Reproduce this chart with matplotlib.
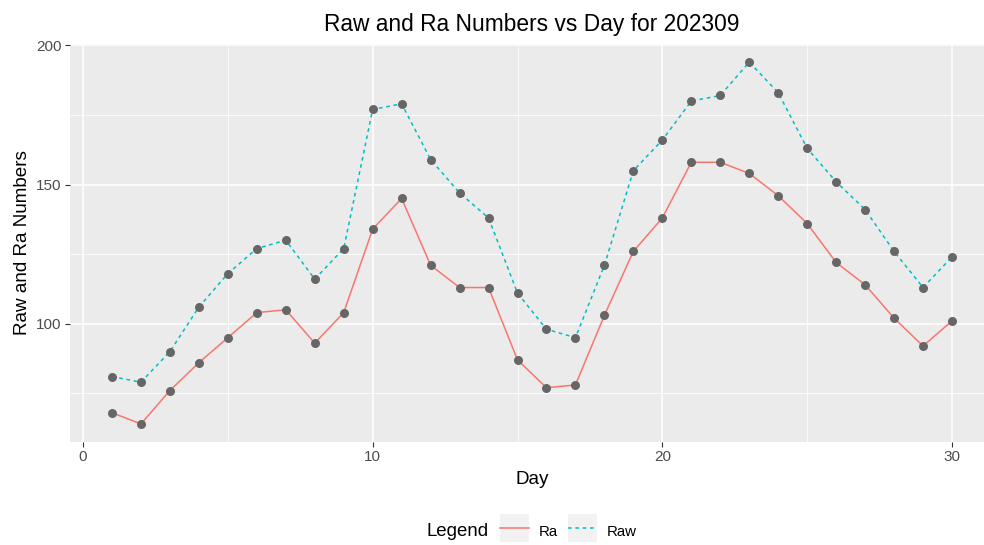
import matplotlib
matplotlib.use("Agg")
import matplotlib.pyplot as plt
from matplotlib.legend_handler import HandlerLine2D
from matplotlib.lines import Line2D
from matplotlib.patches import Rectangle
from matplotlib.ticker import MultipleLocator

# values (September 2023)
days = list(range(1, 31))
raw_values = [81, 79, 90, 106, 118, 127, 130, 116, 127, 177,
              179, 159, 147, 138, 111, 98, 95, 121, 155, 166,
              180, 182, 194, 183, 163, 151, 141, 126, 113, 124]
ra_values = [68, 64, 76, 86, 95, 104, 105, 93, 104, 134,
             145, 121, 113, 113, 87, 77, 78, 103, 126, 138,
             158, 158, 154, 146, 136, 122, 114, 102, 92, 101]
series_names = ["Ra", "Raw"]
series_colors = ["#F8766D", "#00BFC4"]


class KeyHandler(HandlerLine2D):
    # ggplot style legend key: grey box behind the line
    def create_artists(self, legend, orig_handle, xdescent, ydescent,
                       width, height, fontsize, trans):
        yc = (height - ydescent) / 2.0
        boxh = 20.2  # points, about 28 px
        box = Rectangle((-xdescent, yc - boxh / 2), width, boxh,
                        facecolor="#F2F2F2", edgecolor="none", transform=trans)
        arts = super().create_artists(legend, orig_handle, xdescent, ydescent,
                                      width, height, fontsize, trans)
        return [box] + list(arts)


def main():
    plt.rcParams["font.family"] = ["Liberation Sans", "DejaVu Sans"]

    W, H = 984, 545
    fig = plt.figure(figsize=(W / 100, H / 100), dpi=100)
    left, right, top, bottom = 70, 994, 44, 442
    ax = fig.add_axes([left / W, 1 - bottom / H, (right - left) / W, (bottom - top) / H])
    ax.set_facecolor("#EBEBEB")

    ax.plot(days, ra_values, color=series_colors[0], lw=1.1, zorder=3)
    ax.plot(days, raw_values, color=series_colors[1], lw=1.1,
            linestyle=(0, (2.4, 2.4)), zorder=3)
    ax.scatter(days, ra_values, s=42, color="#666666", zorder=4, linewidths=0)
    ax.scatter(days, raw_values, s=42, color="#666666", zorder=4, linewidths=0)

    ax.set_xlim(-0.45, 31.45)
    ax.set_ylim(57.5, 200.5)
    ax.xaxis.set_major_locator(MultipleLocator(10))
    ax.xaxis.set_minor_locator(MultipleLocator(5))
    ax.set_yticks([100, 150, 200])
    ax.set_yticks([75, 125, 175], minor=True)

    ax.grid(which="major", color="white", lw=1.1)
    ax.grid(which="minor", color="white", lw=0.55)
    ax.set_axisbelow(True)
    for sp in ax.spines.values():
        sp.set_visible(False)
    ax.tick_params(which="major", length=3.5, width=0.8, color="#333333",
                   labelsize=11, labelcolor="#4D4D4D", pad=2.5)
    ax.tick_params(which="minor", length=0)

    ax.set_title("Raw and Ra Numbers vs Day for 202309", fontsize=16.4, pad=9)
    ax.set_xlabel("Day", fontsize=13.6, labelpad=5)
    ax.set_ylabel("Raw and Ra Numbers", fontsize=13.6, labelpad=4)

    # legend at the bottom, title on the left like ggplot
    handles = [Line2D([], [], color=series_colors[0], lw=1.1),
               Line2D([], [], color=series_colors[1], lw=1.1, linestyle=(0, (2.4, 2.4)))]
    fig.text(427 / W, 1 - 532 / H, "Legend", fontsize=13.4, va="center", ha="left")
    fig.legend(handles, series_names, loc="center left",
               bbox_to_anchor=(500 / W, 1 - 531 / H), ncol=2, frameon=False,
               fontsize=10.8, handlelength=1.95, handleheight=1.8,
               handletextpad=0.65, columnspacing=0.65, borderpad=0, borderaxespad=0,
               handler_map={Line2D: KeyHandler()})

    fig.savefig("out.png", dpi=100)


if __name__ == "__main__":
    main()
